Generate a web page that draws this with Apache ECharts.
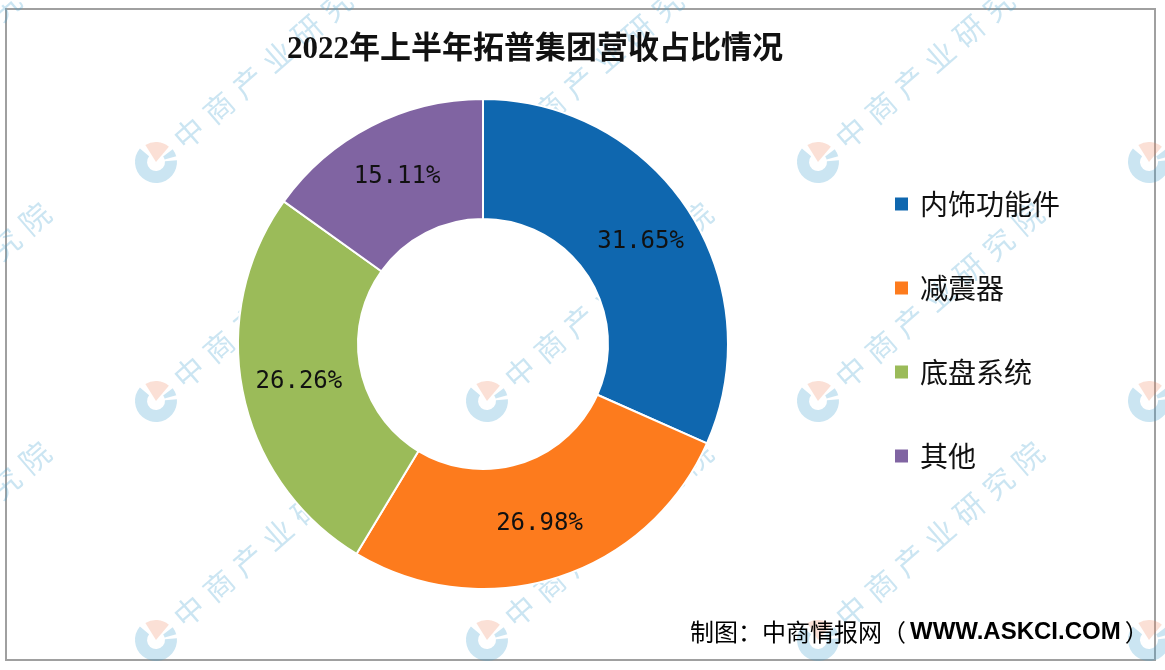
<!DOCTYPE html>
<html>
<head>
<meta charset="utf-8">
<script src="https://cdn.jsdelivr.net/npm/echarts@6/dist/echarts.min.js"></script>
<style>
html,body{margin:0;padding:0;background:#fff;}
#chart{width:1165px;height:670px;}
</style>
</head>
<body>
<div id="chart"></div>
<script>
const titleText = '2022年上半年拓普集团营收占比情况';
const sourceText = '制图：中商情报网（';
const sourceUrl = 'WWW.ASKCI.COM';
const categories = ['内饰功能件', '减震器', '底盘系统', '其他'];
const shares = [31.65, 26.98, 26.26, 15.11];
const colors = ['#0F67AF', '#FD7B1D', '#9BBB59', '#8064A2'];
const watermarkText = '中商产业研究院';

const chart = echarts.init(document.getElementById('chart'));

const wmElems = [];
const wmRot = 41 * Math.PI / 180;
for (let i = -1; i <= 3; i++) {
  for (let j = 0; j <= 2; j++) {
    const cx = 156 + 331 * i;
    const cy = 162 + 239 * j;
    const children = [
      { type: 'sector', shape: { cx: 0, cy: 0, r0: 9, r: 21, startAngle: Math.PI * 0.2, endAngle: Math.PI * 1.45, clockwise: true },
        style: { fill: 'rgba(70,160,210,0.28)' } },
      { type: 'sector', shape: { cx: 0, cy: 0, r0: 0, r: 20, startAngle: Math.PI * 1.55, endAngle: Math.PI * 1.95, clockwise: true },
        style: { fill: 'rgba(240,130,90,0.25)' } },
      { type: 'sector', shape: { cx: 0, cy: 0, r0: 9, r: 21, startAngle: Math.PI * 0.02, endAngle: Math.PI * 0.14, clockwise: true },
        style: { fill: 'rgba(70,160,210,0.28)' } }
    ];
    const chars = watermarkText.split('');
    chars.forEach((ch, k) => {
      children.push({
        type: 'text', x: 44 + k * 39, y: 0, rotation: 0,
        style: { text: ch, fill: 'rgba(70,160,210,0.28)', font: '30px "Noto Sans CJK SC"', textAlign: 'center', textVerticalAlign: 'middle' }
      });
    });
    wmElems.push({ type: 'group', x: cx, y: cy, rotation: wmRot, z: 100, silent: true, children: children });
  }
}

const option = {
  backgroundColor: '#ffffff',
  animation: false,
  color: colors,
  legend: {
    orient: 'vertical',
    left: 888,
    top: 184,
    itemWidth: 15,
    itemHeight: 15,
    itemGap: 54,
    icon: 'rect',
    data: categories,
    textStyle: {
      fontFamily: '"Noto Sans CJK SC"',
      fontSize: 28,
      lineHeight: 30,
      color: '#111',
      padding: [0, 0, 0, 6]
    }
  },
  series: [{
    type: 'pie',
    center: [483, 344],
    radius: [125, 245],
    startAngle: 90,
    clockwise: true,
    avoidLabelOverlap: false,
    itemStyle: { borderColor: '#fff', borderWidth: 2 },
    label: {
      show: true,
      position: 'inside',
      formatter: '{c}%',
      fontFamily: '"DejaVu Sans Mono", monospace',
      fontSize: 24,
      color: '#111'
    },
    labelLine: { show: false },
    emphasis: { disabled: true },
    data: categories.map((c, i) => ({ name: c, value: shares[i] }))
  }],
  graphic: [
    { type: 'rect', shape: { x: 6, y: 9, width: 1149, height: 651 }, style: { fill: 'none', stroke: '#a0a0a0', lineWidth: 2 }, z: 0, silent: true },
    { type: 'text', x: 535, y: 50, z: 10,
      style: { text: titleText, font: 'bold 31px "Liberation Serif", "Noto Sans CJK SC"', fill: '#111', textAlign: 'center', textVerticalAlign: 'middle' } },
    { type: 'text', x: 690, y: 632, z: 10,
      style: {
        text: '{a|' + sourceText + '}{b|' + sourceUrl + '}{c|）}',
        textVerticalAlign: 'middle',
        rich: {
          a: { fontFamily: '"Noto Sans CJK SC"', fontSize: 24, color: '#222' },
          b: { fontFamily: '"Liberation Sans"', fontWeight: 'bold', fontSize: 24, color: '#1c1c3a', padding: [0, 4, 0, 4] },
          c: { fontFamily: '"Noto Sans CJK SC"', fontSize: 24, color: '#222' }
        }
      } }
  ].concat(wmElems)
};
chart.setOption(option);
</script>
</body>
</html>
